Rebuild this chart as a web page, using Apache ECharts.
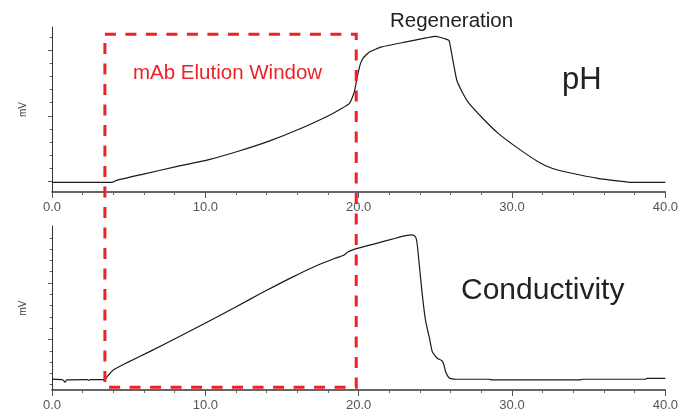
<!DOCTYPE html>
<html>
<head>
<meta charset="utf-8">
<script src="https://cdn.jsdelivr.net/npm/echarts@6/dist/echarts.min.js"></script>
<style>
  html, body { margin: 0; padding: 0; background: #fff; }
  #chart { width: 681px; height: 414px; }
</style>
</head>
<body>
<div id="chart"></div>
<script>
// retention time (min) / detector signal (mV)
const phTime = [0, 3.9, 4.2, 5.9, 8.1, 10.3, 12.2, 14.2, 16.1, 18.1, 18.8, 19.4, 19.7, 19.9, 20.1, 20.3, 20.7, 21.5, 23.1, 24.4, 25.0, 25.3, 25.7, 25.9, 26.1, 26.4, 26.8, 27.2, 28.1, 29.1, 30.4, 31.7, 32.6, 33.9, 35.6, 37.4, 37.8, 40.0];
const phSignal = [-0.05, -0.05, 0.1, 0.56, 1.14, 1.7, 2.33, 3.1, 3.98, 5.05, 5.5, 5.95, 6.75, 7.9, 8.9, 9.4, 9.85, 10.23, 10.61, 10.91, 11.03, 10.96, 10.82, 10.7, 9.5, 7.7, 6.7, 5.94, 4.8, 3.67, 2.53, 1.52, 1.02, 0.64, 0.26, 0.0, -0.05, -0.05];

const condTime = [0, 0.7, 0.85, 0.96, 2.3, 2.4, 2.5, 3.45, 3.6, 4.0, 4.9, 6.4, 8.5, 10.7, 12.9, 14.0, 15.0, 16.1, 17.2, 18.3, 19.06, 19.27, 19.8, 21.1, 22.4, 23.07, 23.5, 23.72, 23.82, 23.93, 24.15, 24.37, 24.62, 24.8, 25.12, 25.45, 25.56, 25.67, 25.89, 26.21, 26.75, 28.5, 28.7, 34.4, 34.6, 38.7, 38.8, 40.0];
const condSignal = [1.5, 1.44, 1.21, 1.42, 1.44, 1.39, 1.44, 1.44, 1.71, 2.3, 2.95, 3.95, 5.4, 6.95, 8.55, 9.35, 10.05, 10.8, 11.5, 12.1, 12.48, 12.72, 13.01, 13.48, 13.96, 14.19, 14.25, 14.05, 13.4, 11.9, 8.95, 6.6, 5.1, 3.92, 3.34, 3.1, 2.74, 2.15, 1.62, 1.5, 1.48, 1.48, 1.42, 1.42, 1.48, 1.48, 1.55, 1.55];

const xTickLabels = ['0.0', '10.0', '20.0', '30.0', '40.0'];
const phMajorTicks = [0, 5, 10];
const phMinorTicks = [1, 2, 3, 4, 6, 7, 8, 9, 11];
const condMajorTicks = [5, 10];
const condMinorTicks = [1, 2, 3, 4, 6, 7, 8, 9, 11, 12, 13, 14];

// elution window: time range, top on the pH scale, bottom on the conductivity scale
const elutionWindow = [3.45, 19.84];
const windowTop = 11.19;
const windowBottom = 0.77;

const FONT = 'Liberation Sans';
const RED = '#ec2227';

function xAxisFor(gridIndex) {
  return {
    type: 'value',
    gridIndex: gridIndex,
    min: 0,
    max: 40,
    interval: 10,
    axisLine: {onZero: false, lineStyle: {color: '#333', width: 1.5}},
    axisTick: {length: 6, lineStyle: {color: '#555', width: 1}},
    minorTick: {show: true, splitNumber: 5, length: 3, lineStyle: {color: '#666', width: 1}},
    splitLine: {show: false},
    axisLabel: {
      fontFamily: FONT,
      fontSize: 13,
      color: '#555',
      margin: 9,
      formatter: function (v) {
        return xTickLabels[Math.round(v / 10)];
      }
    }
  };
}

function yAxesFor(gridIndex, min, max, major, minor) {
  return [
    {
      type: 'value',
      gridIndex: gridIndex,
      position: 'left',
      min: min,
      max: max,
      name: 'mV',
      nameLocation: 'middle',
      nameGap: 24,
      nameTextStyle: {fontFamily: FONT, fontSize: 10, color: '#333'},
      axisLine: {show: true, onZero: false, lineStyle: {color: '#333', width: 1}},
      axisTick: {show: true, customValues: major, length: 4, lineStyle: {color: '#555'}},
      axisLabel: {show: false},
      splitLine: {show: false}
    },
    {
      type: 'value',
      gridIndex: gridIndex,
      position: 'left',
      offset: 0,
      min: min,
      max: max,
      axisLine: {show: false, onZero: false},
      axisTick: {show: true, customValues: minor, length: 2.5, lineStyle: {color: '#666'}},
      axisLabel: {show: false},
      splitLine: {show: false}
    }
  ];
}

const chart = echarts.init(document.getElementById('chart'));

const option = {
  animation: false,
  grid: [
    {left: 52, right: 14, top: 27, height: 165},
    {left: 52, right: 14, top: 226, height: 164}
  ],
  xAxis: [xAxisFor(0), xAxisFor(1)],
  yAxis: yAxesFor(0, -0.78, 11.74, phMajorTicks, phMinorTicks)
    .concat(yAxesFor(1, 0.53, 15.04, condMajorTicks, condMinorTicks)),
  series: [
    {
      name: 'pH',
      type: 'line',
      xAxisIndex: 0,
      yAxisIndex: 0,
      showSymbol: false,
      smooth: 0.15,
      lineStyle: {width: 1.2, color: '#1a1a1a'},
      data: phTime.map((t, i) => [t, phSignal[i]])
    },
    {
      name: 'Conductivity',
      type: 'line',
      xAxisIndex: 1,
      yAxisIndex: 2,
      showSymbol: false,
      smooth: 0.15,
      lineStyle: {width: 1.2, color: '#1a1a1a'},
      data: condTime.map((t, i) => [t, condSignal[i]])
    }
  ]
};
chart.setOption(option);

// dashed elution window spanning both panels
const p0 = chart.convertToPixel({xAxisIndex: 0, yAxisIndex: 0}, [elutionWindow[0], windowTop]);
const p1 = chart.convertToPixel({xAxisIndex: 1, yAxisIndex: 2}, [elutionWindow[1], windowBottom]);

chart.setOption({
  graphic: [
    {
      type: 'rect',
      shape: {x: p0[0], y: p0[1], width: p1[0] - p0[0], height: p1[1] - p0[1]},
      style: {fill: 'none', stroke: RED, lineWidth: 3, lineDash: [11, 9.5]},
      z: 10
    },
    {
      type: 'text', left: 133, top: 63,
      style: {text: 'mAb Elution Window', fill: RED, font: '20.5px "' + FONT + '"'}
    },
    {
      type: 'text', left: 390, top: 11,
      style: {text: 'Regeneration', fill: '#222', font: '20.5px "' + FONT + '"'}
    },
    {
      type: 'text', left: 562, top: 65,
      style: {text: 'pH', fill: '#222', font: '31px "' + FONT + '"'}
    },
    {
      type: 'text', left: 461, top: 276,
      style: {text: 'Conductivity', fill: '#222', font: '30px "' + FONT + '"'}
    }
  ]
});
</script>
</body>
</html>
